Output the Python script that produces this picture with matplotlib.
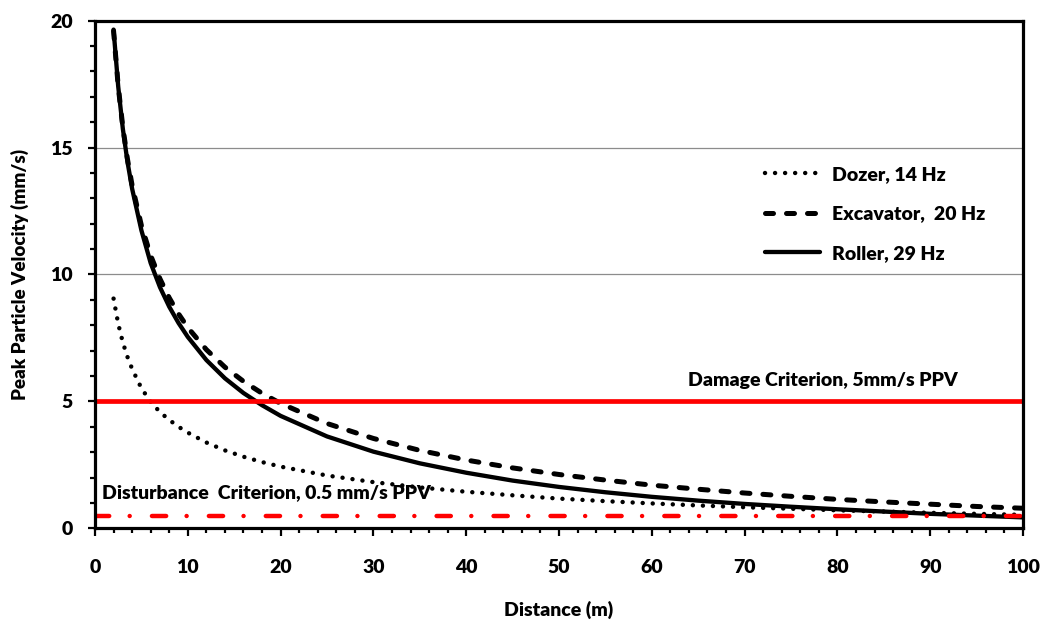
import matplotlib
matplotlib.use("Agg")
import matplotlib.pyplot as plt
from matplotlib.ticker import MultipleLocator

plt.rcParams['font.family'] = ['Lato', 'DejaVu Sans']
plt.rcParams['font.weight'] = 'heavy'
WEIGHT = 'heavy'
FS = 14

# Distance from source (m)
distance = [2, 2.5, 3, 3.5, 4, 5, 6, 7, 8, 9, 10, 12, 14, 16, 18, 20, 25, 30,
            35, 40, 45, 50, 55, 60, 65, 70, 75, 80, 85, 90, 95, 100]

# Peak particle velocity (mm/s) for each plant item
dozer_ppv = [9.05, 8.06, 7.32, 6.75, 6.28, 5.52, 4.98, 4.58, 4.27, 4.00, 3.77,
             3.38, 3.07, 2.82, 2.61, 2.43, 2.08, 1.82, 1.61, 1.44, 1.30, 1.17,
             1.07, 0.98, 0.90, 0.83, 0.77, 0.71, 0.66, 0.61, 0.57, 0.53]
excavator_ppv = [19.60, 17.42, 15.80, 14.54, 13.51, 11.93, 10.75, 9.83, 9.08,
                 8.45, 7.91, 7.04, 6.35, 5.79, 5.32, 4.92, 4.13, 3.54, 3.07,
                 2.69, 2.38, 2.12, 1.90, 1.70, 1.54, 1.39, 1.26, 1.14, 1.04,
                 0.95, 0.86, 0.79]
roller_ppv = [19.65, 17.41, 15.74, 14.44, 13.38, 11.74, 10.45, 9.50, 8.73,
              8.09, 7.54, 6.63, 5.91, 5.33, 4.85, 4.43, 3.62, 3.02, 2.56, 2.19,
              1.88, 1.63, 1.42, 1.24, 1.09, 0.96, 0.85, 0.75, 0.66, 0.57,
              0.50, 0.43]

series_labels = ["Dozer, 14 Hz", "Excavator,  20 Hz", "Roller, 29 Hz"]

# Criteria
damage_ppv = 5.0
disturbance_ppv = 0.5
criteria_x = [0, 100]
damage_label = "Damage Criterion, 5mm/s PPV"
disturbance_label = "Disturbance  Criterion, 0.5 mm/s PPV"

W, H = 1041, 621
fig = plt.figure(figsize=(W / 100, H / 100), dpi=100)
ax = fig.add_axes([95 / W, 1 - 528.3 / H, 928 / W, 507.6 / H])

ax.set_xlim(0, 100)
ax.set_ylim(0, 20)

# horizontal gridlines
for gy in (5, 10, 15):
    ax.axhline(gy, color='#8c8c8c', lw=0.9, zorder=1)

h_dozer, = ax.plot(distance, dozer_ppv, color='black', lw=3.2,
                   linestyle=(0, (0.01, 2.25)), dash_capstyle='round',
                   zorder=3, label=series_labels[0])
h_exc, = ax.plot(distance, excavator_ppv, color='black', lw=3.6,
                 linestyle=(0, (1.6, 2.6)), dash_capstyle='round',
                 zorder=3, label=series_labels[1])
h_roll, = ax.plot(distance, roller_ppv, color='black', lw=3.1,
                  solid_capstyle='round', zorder=3, label=series_labels[2])

ax.plot(criteria_x, [damage_ppv, damage_ppv], color='#ff0000', lw=3.4,
        solid_capstyle='butt', zorder=4)
ax.plot(criteria_x, [disturbance_ppv, disturbance_ppv], color='#ff0000',
        lw=3.2, linestyle=(0, (3.2, 4.6, 0.01, 5.0)),
        dash_capstyle='round', zorder=4)

ax.text(63.9, 5.61, damage_label, fontsize=FS, fontweight=WEIGHT,
        ha='left', va='baseline', zorder=5)
ax.text(0.72, 1.18, disturbance_label, fontsize=FS, fontweight=WEIGHT,
        ha='left', va='baseline', zorder=2)

# axes frame
for side in ('left', 'right', 'top', 'bottom'):
    ax.spines[side].set_linewidth(2.3)
    ax.spines[side].set_color('black')
    ax.spines[side].set_zorder(6)

ax.xaxis.set_major_locator(MultipleLocator(10))
ax.xaxis.set_minor_locator(MultipleLocator(2))
ax.yaxis.set_major_locator(MultipleLocator(5))
ax.yaxis.set_minor_locator(MultipleLocator(1))

ax.tick_params(axis='x', which='major', direction='out', length=5.8,
               width=1.6, pad=16, labelsize=FS)
ax.tick_params(axis='x', which='minor', direction='out', length=3.6,
               width=1.6)
ax.tick_params(axis='y', which='major', direction='out', length=5.0,
               width=1.6, pad=11, labelsize=FS)
ax.tick_params(axis='y', which='minor', direction='out', length=3.6,
               width=1.6)
for lab in ax.get_xticklabels() + ax.get_yticklabels():
    lab.set_fontweight(WEIGHT)

ax.set_xlabel("Distance (m)", fontsize=FS, fontweight=WEIGHT)
ax.set_ylabel("Peak Particle Velocity (mm/s)", fontsize=13.5,
              fontweight=WEIGHT)
ax.xaxis.set_label_coords(0.5, (528.3 - 610) / 507.6)
ax.xaxis.label.set_va('center')
ax.yaxis.set_label_coords((20 - 95) / 928, 0.5)
ax.yaxis.label.set_va('center')

leg = ax.legend(handles=[h_dozer, h_exc, h_roll], loc='center left',
                bbox_to_anchor=(765 / W, 1 - 214 / H),
                bbox_transform=fig.transFigure, frameon=False,
                borderpad=0, borderaxespad=0, handlelength=2.85,
                handletextpad=0.6, labelspacing=1.15,
                prop={'size': FS, 'weight': WEIGHT})

fig.savefig("out.png", dpi=100)
